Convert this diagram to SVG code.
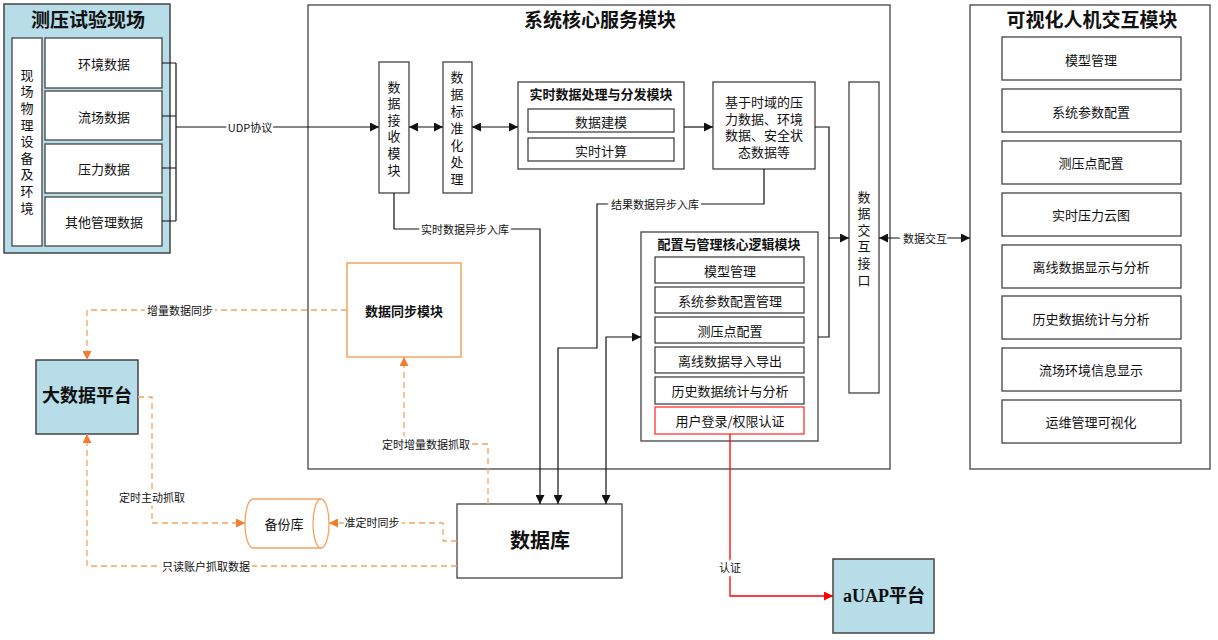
<svg xmlns="http://www.w3.org/2000/svg" width="1218" height="640" viewBox="0 0 1218 640">
<style>
text{font-family:"Noto Sans CJK SC","Liberation Sans",sans-serif;font-size:13px;fill:#111;text-anchor:middle;dominant-baseline:central}
.vt{writing-mode:vertical-rl;text-orientation:upright}
.title{font-family:"Liberation Serif","Noto Sans CJK SC",serif;font-weight:bold;font-size:19px}
.bt{font-weight:bold;font-size:13px}
.big{font-family:"Liberation Serif","Noto Sans CJK SC",serif;font-weight:bold;font-size:18px}
.lbl{font-size:11px;paint-order:stroke;stroke:#fff;stroke-width:5px}
.box{fill:#fff;stroke:#444;stroke-width:1.3}
.blue{fill:#b7dde8;stroke:#444;stroke-width:1.5}
.ln{fill:none;stroke:#111;stroke-width:1.2}
.or{fill:none;stroke:#f4a460;stroke-width:1.3;stroke-dasharray:6 4}
.red{fill:none;stroke:#f00;stroke-width:1.3}
</style>
<defs>
<marker id="a" viewBox="0 0 10 10" refX="10" refY="5" markerWidth="9" markerHeight="9" markerUnits="userSpaceOnUse" orient="auto-start-reverse"><path d="M0,0 L10,5 L0,10 z" fill="#111"/></marker>
<marker id="ao" viewBox="0 0 10 10" refX="10" refY="5" markerWidth="9" markerHeight="9" markerUnits="userSpaceOnUse" orient="auto-start-reverse"><path d="M0,0 L10,5 L0,10 z" fill="#ed7d31"/></marker>
<marker id="ar" viewBox="0 0 10 10" refX="10" refY="5" markerWidth="9" markerHeight="9" markerUnits="userSpaceOnUse" orient="auto-start-reverse"><path d="M0,0 L10,5 L0,10 z" fill="#f00"/></marker>
</defs>

<g id="site">
<rect x="4" y="4" width="166" height="249" class="blue"/>
<text x="88" y="20" class="title">测压试验现场</text>
<rect x="12" y="38" width="30" height="208" class="box"/>
<text x="27" y="143" class="vt" letter-spacing="3.6">现场物理设备及环境</text>
<rect x="45" y="38" width="117" height="50" class="box"/><text x="104" y="63">环境数据</text>
<rect x="45" y="91" width="117" height="49" class="box"/><text x="104" y="116">流场数据</text>
<rect x="45" y="144" width="117" height="49" class="box"/><text x="104" y="168">压力数据</text>
<rect x="45" y="197" width="117" height="49" class="box"/><text x="104" y="221">其他管理数据</text>
</g>

<g id="core">
<rect x="308" y="5" width="582" height="464" class="box"/>
<text x="600" y="20" class="title">系统核心服务模块</text>
</g>

<g id="recv">
<rect x="379" y="62" width="30" height="131" class="box"/>
<text x="394" y="130" class="vt" letter-spacing="3.6">数据接收模块</text>
</g>
<g id="norm">
<rect x="443" y="62" width="29" height="131" class="box"/>
<text x="457" y="130" class="vt" letter-spacing="4">数据标准化处理</text>
</g>
<g id="realtime">
<rect x="518" y="82" width="166" height="87" class="box"/>
<text x="601" y="93" class="bt">实时数据处理与分发模块</text>
<rect x="528" y="109" width="146" height="23" class="box"/><text x="601" y="121">数据建模</text>
<rect x="528" y="138" width="146" height="23" class="box"/><text x="601" y="150">实时计算</text>
</g>
<g id="timedata">
<rect x="713" y="82" width="102" height="87" class="box"/>
<text x="764" y="101"><tspan x="764">基于时域的压</tspan><tspan x="764" dy="16.7">力数据、环境</tspan><tspan x="764" dy="16.7">数据、安全状</tspan><tspan x="764" dy="16.7">态数据等</tspan></text>
</g>
<g id="iface">
<rect x="849" y="82" width="30" height="311" class="box"/>
<text x="864" y="240" class="vt" letter-spacing="3.6">数据交互接口</text>
</g>
<g id="config">
<rect x="641" y="232" width="177" height="209" class="box"/>
<text x="729" y="243" class="bt">配置与管理核心逻辑模块</text>
<rect x="655" y="257" width="149" height="26" class="box"/><text x="730" y="270">模型管理</text>
<rect x="655" y="287" width="149" height="26" class="box"/><text x="730" y="300">系统参数配置管理</text>
<rect x="655" y="317" width="149" height="26" class="box"/><text x="730" y="330">测压点配置</text>
<rect x="655" y="347" width="149" height="26" class="box"/><text x="730" y="360">离线数据导入导出</text>
<rect x="655" y="377" width="149" height="27" class="box"/><text x="730" y="390">历史数据统计与分析</text>
<rect x="655" y="407" width="149" height="27" fill="#fff" stroke="#f33" stroke-width="1.3"/><text x="730" y="420">用户登录/权限认证</text>
</g>
<g id="sync">
<rect x="347" y="263" width="114" height="94" fill="#fff" stroke="#f4a460" stroke-width="1.5"/>
<text x="404" y="310" class="bt">数据同步模块</text>
</g>

<g id="visual">
<rect x="970" y="5" width="240" height="464" class="box"/>
<text x="1092" y="20" class="title">可视化人机交互模块</text>
<rect x="1002" y="37" width="179" height="43" class="box"/><text x="1091" y="59">模型管理</text>
<rect x="1002" y="89" width="179" height="43" class="box"/><text x="1091" y="111">系统参数配置</text>
<rect x="1002" y="141" width="179" height="43" class="box"/><text x="1091" y="162">测压点配置</text>
<rect x="1002" y="193" width="179" height="43" class="box"/><text x="1091" y="214">实时压力云图</text>
<rect x="1002" y="245" width="179" height="43" class="box"/><text x="1091" y="266">离线数据显示与分析</text>
<rect x="1002" y="296" width="179" height="43" class="box"/><text x="1091" y="318">历史数据统计与分析</text>
<rect x="1002" y="348" width="179" height="43" class="box"/><text x="1091" y="369">流场环境信息显示</text>
<rect x="1002" y="400" width="179" height="43" class="box"/><text x="1091" y="421">运维管理可视化</text>
</g>

<g id="bigdata">
<rect x="36" y="360" width="102" height="74" class="blue"/>
<text x="87" y="396" class="big">大数据平台</text>
</g>
<g id="backup">
<path d="M253,499 L321,499 A8,24.5 0 0 1 321,548 L253,548 A8,24.5 0 0 1 253,499 Z" fill="#fff" stroke="#f4a460" stroke-width="1.3"/>
<path d="M321,499 A8,24.5 0 0 0 321,548" fill="none" stroke="#f4a460" stroke-width="1.3"/>
<text x="284" y="523">备份库</text>
</g>
<g id="db">
<rect x="457" y="504" width="165" height="74" class="box"/>
<text x="540" y="541" class="big" style="font-size:20px">数据库</text>
</g>
<g id="auap">
<rect x="833" y="559" width="101" height="74" class="blue"/>
<text x="884" y="596" class="big">aUAP平台</text>
</g>

<g id="connectors">
<path class="ln" d="M162,63 H176 M162,116 H176 M162,168 H176 M162,221 H176 M176,63 V221"/>
<path class="ln" d="M176,127 H379" marker-end="url(#a)"/>
<text x="250" y="127" class="lbl">UDP协议</text>
<path class="ln" d="M409,127 H443" marker-start="url(#a)" marker-end="url(#a)"/>
<path class="ln" d="M472,127 H518" marker-start="url(#a)" marker-end="url(#a)"/>
<path class="ln" d="M684,127 H713" marker-end="url(#a)"/>
<path class="ln" d="M815,127 H829 V238 H849" marker-end="url(#a)"/>
<path class="ln" d="M818,337 H829 V238"/>
<path class="ln" d="M879,238 H970" marker-start="url(#a)" marker-end="url(#a)"/>
<text x="925" y="238" class="lbl">数据交互</text>
<path class="ln" d="M394,193 V229 H540 V504" marker-end="url(#a)"/>
<text x="465" y="229" class="lbl">实时数据异步入库</text>
<path class="ln" d="M764,169 V204 H597 V348 H558 V504" marker-end="url(#a)"/>
<text x="655" y="204" class="lbl">结果数据异步入库</text>
<path class="ln" d="M606,504 V337 H641" marker-start="url(#a)" marker-end="url(#a)"/>
<path class="red" d="M730,434 V596 H833" marker-end="url(#ar)"/>
<text x="730" y="567" class="lbl">认证</text>
<path class="or" d="M347,310 H87 V360" marker-end="url(#ao)"/>
<text x="180" y="310" class="lbl">增量数据同步</text>
<path class="or" d="M138,397 H152 V523 H245" marker-end="url(#ao)"/>
<text x="152" y="497" class="lbl">定时主动抓取</text>
<path class="or" d="M457,541 H443 V523 H329" marker-end="url(#ao)"/>
<text x="372" y="522" class="lbl">准定时同步</text>
<path class="or" d="M457,566 H87 V434" marker-end="url(#ao)"/>
<text x="206" y="566" class="lbl">只读账户抓取数据</text>
<path class="or" d="M488,504 V444 H404 V357" marker-end="url(#ao)"/>
<text x="426" y="444" class="lbl">定时增量数据抓取</text>
</g>
</svg>
